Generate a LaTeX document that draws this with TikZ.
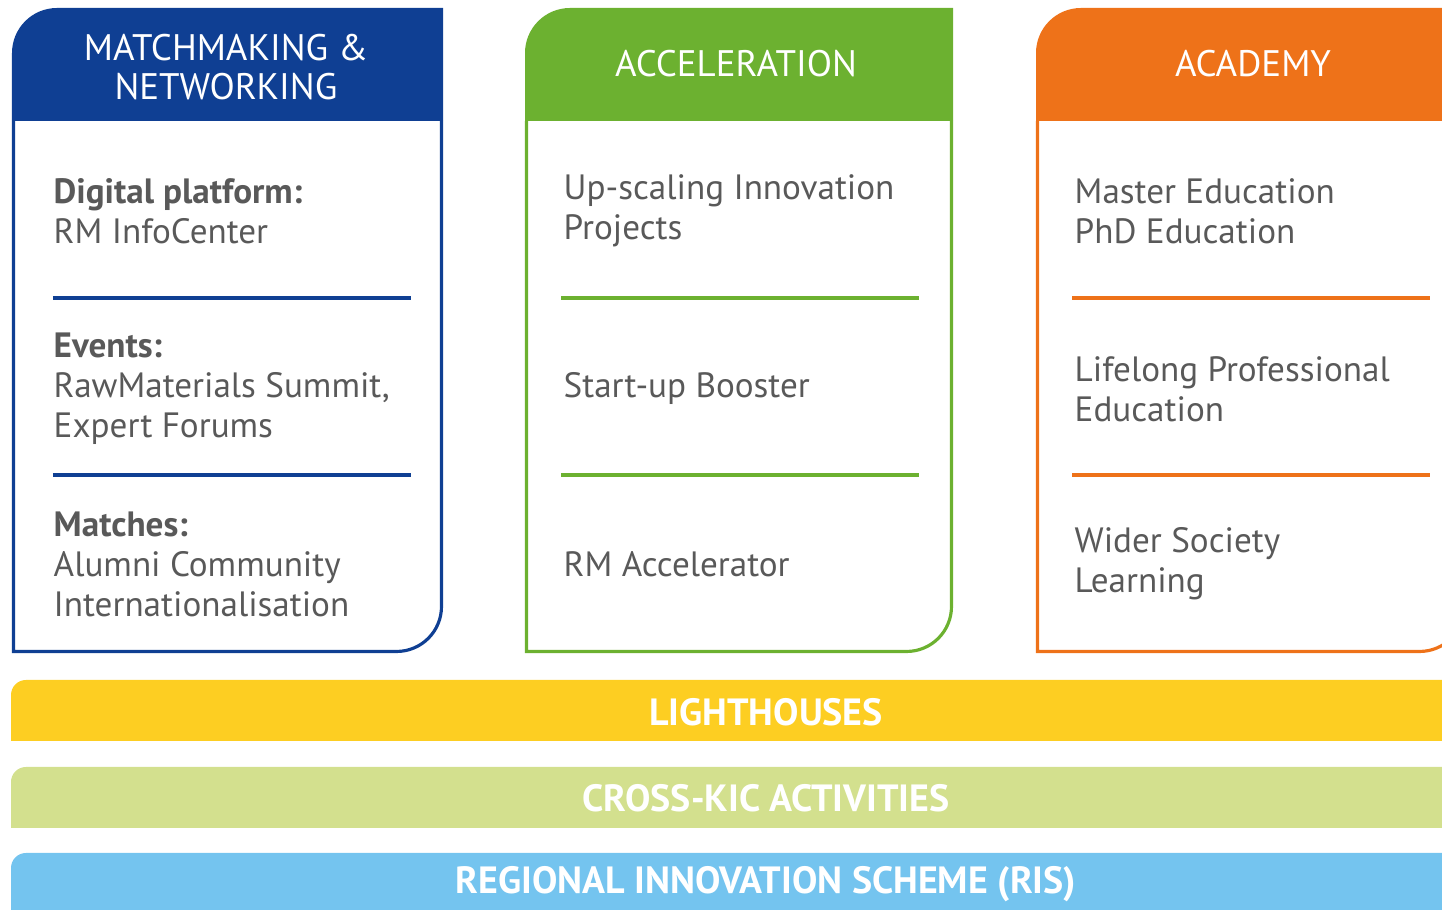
\documentclass[tikz,border=0pt]{standalone}
\usepackage{fontspec}
\setmainfont{PT Sans}
\usetikzlibrary{calc}

\definecolor{mmblue}{HTML}{0F3F93}
\definecolor{accgreen}{HTML}{6CB130}
\definecolor{acdorange}{HTML}{EE7219}
\definecolor{lhyellow}{HTML}{FDCE22}
\definecolor{kiclime}{HTML}{D3E08E}
\definecolor{rissky}{HTML}{74C4EF}
\definecolor{bodygray}{HTML}{595959}

% one pillar: left x, right x, colour
\newcommand{\pillar}[3]{%
 \fill[#3] (#1,7.89) -- (#1,8.57) arc[start angle=180,end angle=90,radius=0.45] -- (#2,9.02) -- (#2,7.89) -- cycle;
 \draw[#3, line width=0.9pt] (#1+0.015,7.89) -- (#1+0.015,2.585) -- (#2-0.465,2.585)
   arc[start angle=-90,end angle=0,radius=0.45] -- (#2-0.015,7.89);
}

\begin{document}
\begin{tikzpicture}[
  headtext/.style={text=white, align=center, font=\fontsize{10.5}{11.2}\selectfont},
  itemtext/.style={text=bodygray, anchor=west, align=left, inner sep=0, font=\fontsize{10}{11.4}\selectfont},
  bandtext/.style={text=white, font=\bfseries\fontsize{10.8}{12}\selectfont},
  sepline/.style={line width=0.9pt}
]
\useasboundingbox (0,0) rectangle (14.42,9.10);
\begin{scope}
\clip (0,0) rectangle (14.42,9.10);

\pillar{0.12}{4.43}{mmblue}
\pillar{5.25}{9.53}{accgreen}
\pillar{10.36}{14.66}{acdorange}

% headers
\node[headtext] (mm-head)  at (2.26,8.43) {MATCHMAKING \&\\NETWORKING};
\node[headtext] (acc-head) at (7.36,8.46) {ACCELERATION};
\node[headtext] (acd-head) at (12.53,8.46) {ACADEMY};

% items
\node[itemtext] (mm-1) at (0.53,6.99) {\textbf{Digital platform:}\\RM InfoCenter};
\node[itemtext] (mm-2) at (0.53,5.21) {\textbf{Events:}\\RawMaterials Summit,\\Expert Forums};
\node[itemtext] (mm-3) at (0.53,3.46) {\textbf{Matches:}\\Alumni Community\\Internationalisation};

\node[itemtext] (acc-1) at (5.63,6.99) {Up-scaling Innovation\\Projects};
\node[itemtext] (acc-2) at (5.63,5.21) {Start-up Booster};
\node[itemtext] (acc-3) at (5.63,3.46) {RM Accelerator};

\node[itemtext] (acd-1) at (10.74,6.99) {Master Education\\PhD Education};
\node[itemtext] (acd-2) at (10.74,5.21) {Lifelong Professional\\Education};
\node[itemtext] (acd-3) at (10.74,3.46) {Wider Society\\Learning};

% separators
\foreach \x/\c in {0.53/mmblue, 5.61/accgreen, 10.72/acdorange} {
 \draw[sepline, \c] (\x,6.12) --++(3.58,0);
 \draw[sepline, \c] (\x,4.35) --++(3.58,0);
}

% bands
\foreach \y/\c in {1.69/lhyellow, 0.82/kiclime, -0.04/rissky} {
 \fill[\c] (0.11,\y) -- (0.11,\y+0.46) arc[start angle=180,end angle=90,radius=0.15] --++(14.5,0) --++(0,-0.61) -- cycle;
}
\node[bandtext] (lh)  at (7.66,1.98) {LIGHTHOUSES};
\node[bandtext] (kic) at (7.66,1.12) {CROSS-KIC ACTIVITIES};
\node[bandtext] (ris) at (7.66,0.26) {REGIONAL INNOVATION SCHEME (RIS)};
\end{scope}
\end{tikzpicture}
\end{document}
